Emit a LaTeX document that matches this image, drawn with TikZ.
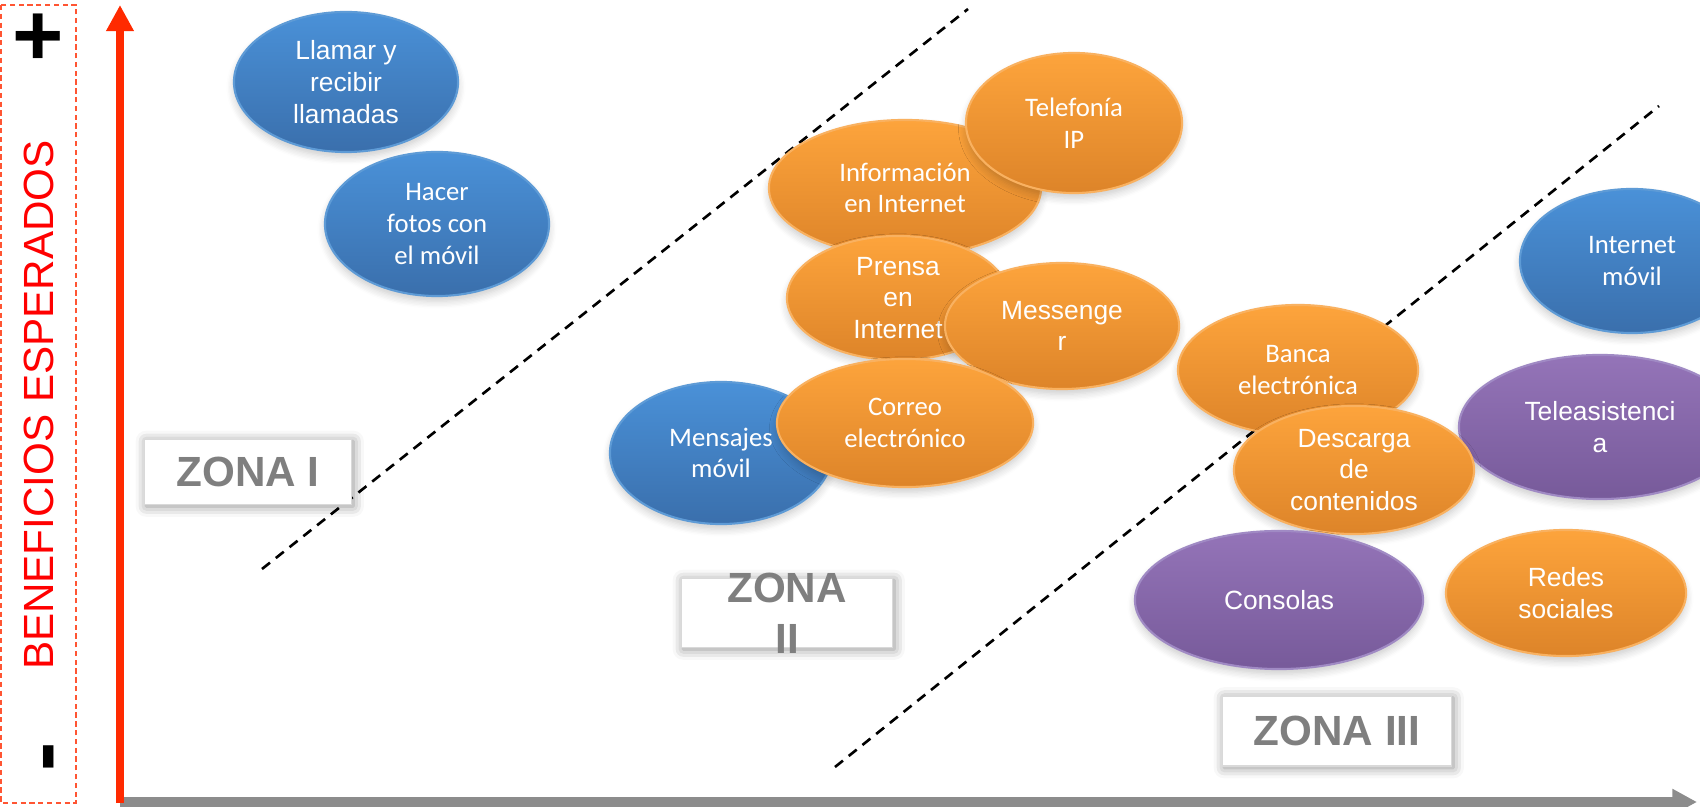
\documentclass[tikz,border=0pt]{standalone}
\usepackage{fontspec}
\setmainfont{Liberation Sans}
\newfontfamily\califont{Carlito}
\usetikzlibrary{shapes.geometric,arrows.meta,shadows.blur}

\definecolor{bluetop}{HTML}{4A91D8}
\definecolor{bluebot}{HTML}{3A6FAC}
\definecolor{blueedge}{HTML}{5E9BD6}
\definecolor{orangetop}{HTML}{FDA43C}
\definecolor{orangebot}{HTML}{DD8429}
\definecolor{orangeedge}{HTML}{F9B160}
\definecolor{purpletop}{HTML}{9474B8}
\definecolor{purplebot}{HTML}{775A9A}
\definecolor{purpleedge}{HTML}{A08AC4}
\definecolor{axisred}{HTML}{FF2A00}
\definecolor{axisgray}{HTML}{8C8C8C}
\definecolor{zonegray}{HTML}{7F7F7F}

\tikzset{
  bubble/.style={ellipse, inner sep=0pt, align=center, text=white, line width=0.6pt,
    font=\fontsize{7.5}{9}\selectfont,
    blur shadow={shadow xshift=0pt, shadow yshift=-1.5pt, shadow blur steps=6, shadow opacity=20}},
  cali/.style={font=\califont\fontsize{7.6}{9}\selectfont},
  bluebub/.style={bubble, top color=bluetop, bottom color=bluebot, draw=blueedge},
  orangebub/.style={bubble, top color=orangetop, bottom color=orangebot, draw=orangeedge},
  purplebub/.style={bubble, top color=purpletop, bottom color=purplebot, draw=purpleedge},
  zonebox/.style={rectangle, fill=white, draw=gray!30, line width=0.5pt,
    blur shadow={shadow xshift=0.5pt, shadow yshift=-0.5pt, shadow blur radius=3pt, shadow opacity=45}},
  zonetxt/.style={font=\bfseries\fontsize{12}{14.4}\selectfont, text=zonegray, align=center},
}

\begin{document}
\begin{tikzpicture}[x=0.01cm, y=-0.01cm]
  \clip (0,0) rectangle (1700,807);   % page

  % left label
  \draw[axisred!80, line width=0.4pt, dash pattern=on 1.5pt off 1pt] (1,5) rectangle (76,803);
  \node[font=\bfseries\fontsize{25}{25}\selectfont] (plus) at (38,40) {+};
  \node[font=\bfseries\fontsize{25}{25}\selectfont, rotate=90] (minus) at (57,757) {-};
  \node[font=\fontsize{12}{14}\selectfont, text=red, rotate=90] (benef) at (39,405) {BENEFICIOS ESPERADOS};

  % axes
  \coordinate (orig) at (120,803);
  \coordinate (ytop) at (120,5);
  \coordinate (xstart) at (120,802);
  \coordinate (xend) at (1697,802);
  \draw[line width=2.9pt, axisgray, -{Triangle[length=7pt,width=7pt]}] (xstart) -- (xend);
  \draw[line width=2.3pt, axisred, -{Triangle[length=7.4pt,width=7.4pt]}] (orig) -- (ytop);

  % zone limits
  \coordinate (lim1a) at (262,569);
  \coordinate (lim1b) at (968,9);
  \coordinate (lim2a) at (835,767);
  \coordinate (lim2b) at (1659,106);
  \draw[line width=0.75pt, dash pattern=on 2.9pt off 2.1pt] (lim1a) -- (lim1b);
  \draw[line width=0.75pt, dash pattern=on 2.9pt off 2.1pt] (lim2a) -- (lim2b);

  % zone I
  \node[bluebub, minimum width=2.24cm, minimum height=1.40cm] (llamar) at (346,82) {Llamar y\\recibir\\llamadas};
  \node[bluebub, cali, minimum width=2.24cm, minimum height=1.44cm] (fotos) at (437,224) {Hacer\\fotos con\\el móvil};

  % zone II
  \node[orangebub, cali, minimum width=2.72cm, minimum height=1.36cm] (info) at (905,188) {Información\\en Internet};
  \node[orangebub, cali, minimum width=2.16cm, minimum height=1.40cm] (telef) at (1074,123) {Telefonía\\IP};
  \node[orangebub, minimum width=2.22cm, minimum height=1.24cm] (prensa) at (898,298) {Prensa\\en\\Internet};
  \node[orangebub, minimum width=2.34cm, minimum height=1.26cm] (messenger) at (1062,326) {Messenge\\r};
  \node[bluebub, cali, minimum width=2.22cm, minimum height=1.42cm] (mensajes) at (721,453) {Mensajes\\móvil};
  \node[orangebub, cali, minimum width=2.56cm, minimum height=1.28cm] (correo) at (905,423) {Correo\\electrónico};

  % zone III
  \node[orangebub, cali, minimum width=2.40cm, minimum height=1.30cm] (banca) at (1298,370) {Banca\\electrónica};
  \node[purplebub, minimum width=2.82cm, minimum height=1.44cm] (telea) at (1600,427) {Teleasistenci\\a};
  \node[orangebub, minimum width=2.40cm, minimum height=1.28cm] (descarga) at (1354,470) {Descarga\\de\\contenidos};
  \node[bluebub, cali, minimum width=2.24cm, minimum height=1.44cm] (inet) at (1632,261) {Internet\\móvil};
  \node[purplebub, minimum width=2.88cm, minimum height=1.38cm] (consolas) at (1279,600) {Consolas};
  \node[orangebub, minimum width=2.40cm, minimum height=1.26cm] (redes) at (1566,593) {Redes\\sociales};

  % zone labels
  \node[zonebox, minimum width=2.07cm, minimum height=0.65cm] (zona1) at (248,472) {};
  \node[zonetxt] (zona1txt) at (zona1) {ZONA I};
  \node[zonebox, minimum width=2.11cm, minimum height=0.69cm] (zona2) at (787,613) {};
  \node[zonetxt] (zona2txt) at (zona2) {ZONA\\II};
  \node[zonebox, minimum width=2.29cm, minimum height=0.70cm] (zona3) at (1337,731) {};
  \node[zonetxt] (zona3txt) at (zona3) {ZONA III};
\end{tikzpicture}
\end{document}
